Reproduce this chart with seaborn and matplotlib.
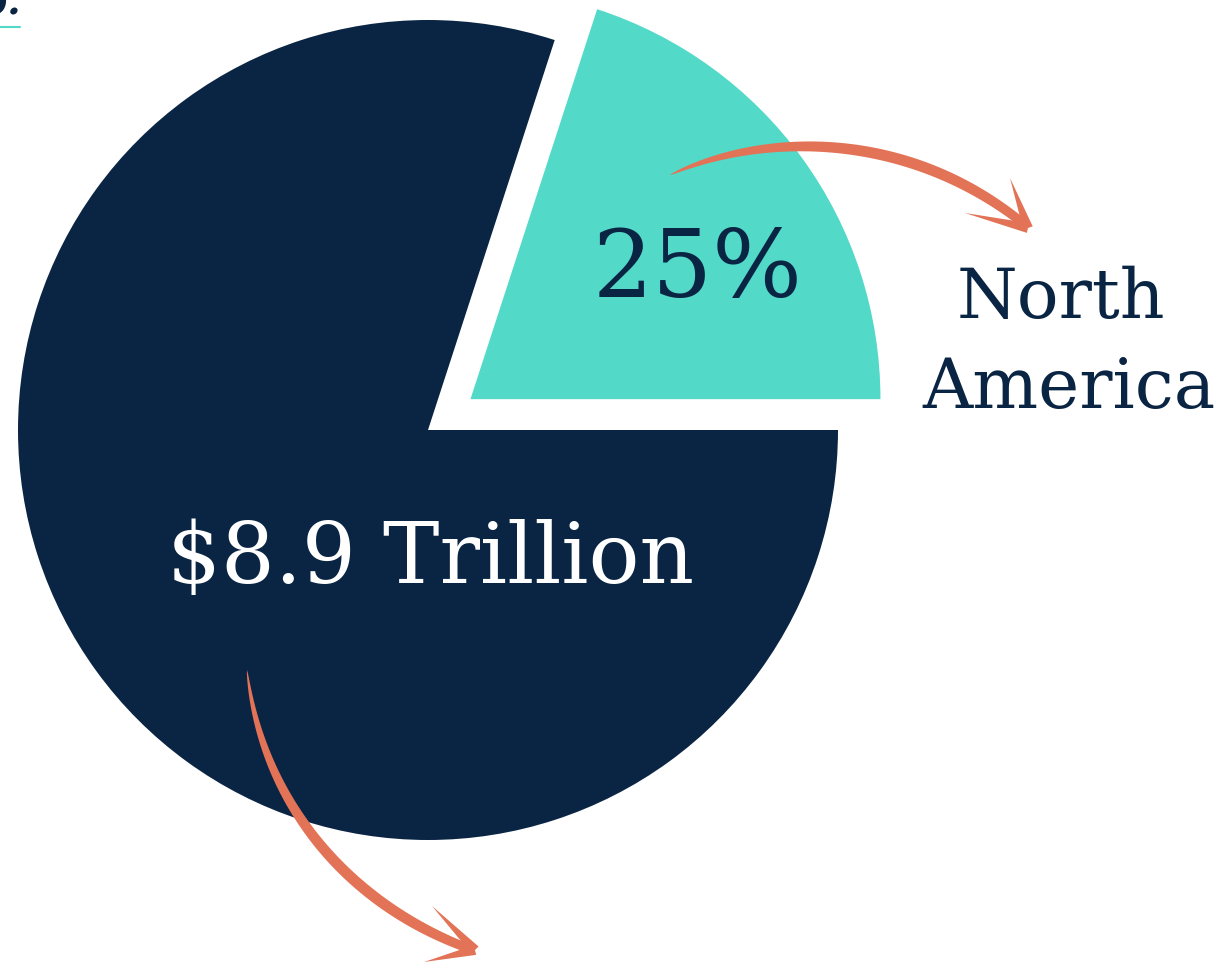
import numpy as np
import matplotlib
matplotlib.use("Agg")
import matplotlib.pyplot as plt
import seaborn as sns
from matplotlib.patches import Polygon

# data
regions = ["North America", "Rest of world"]
shares = [20, 80]          # angular share of the two wedges as drawn
share_label = "25%"
total_label = "$8.9 Trillion"

navy = "#0a2543"
teal = "#52d9c8"
coral = "#e37356"

sns.set_theme(style="white")
plt.rcParams['font.family'] = ['DejaVu Serif', 'DejaVu Sans']

W, H = 1226, 967
R = 410.0      # pie radius in pixels
CX, CY = 428, 430


def px(x, y):
    # pixel position -> data units (radius = 1)
    return (x - CX) / R, (CY - y) / R


fig = plt.figure(figsize=(W / 100, H / 100), dpi=100)
ax = fig.add_axes([0, 0, 1, 1])

wedges, _ = ax.pie(shares, colors=[teal, navy], startangle=0, counterclock=True,
                   explode=[0.128, 0], radius=1,
                   wedgeprops=dict(linewidth=0))

x0, y0 = px(0, H)
x1, y1 = px(W, 0)
ax.set_xlim(x0, x1)
ax.set_ylim(y0, y1)
ax.set_aspect("equal")
ax.axis("off")

# labels
ax.text(*px(698, 297), share_label, color=navy, fontsize=68, ha="center", va="baseline")
ax.text(*px(1061, 318), "North", color=navy, fontsize=50, ha="center", va="baseline")
ax.text(*px(1069, 408), "America", color=navy, fontsize=50, ha="center", va="baseline")
ax.text(*px(431, 583), total_label, color="white", fontsize=61, ha="center", va="baseline")

# cut-off heading fragment top-left
ax.text(*px(21, 14), "b.", color=navy, fontsize=28, style="italic", weight="bold",
        ha="right", va="baseline")
ax.plot([px(0, 27)[0], px(20, 27)[0]], [px(0, 27)[1]] * 2, color=teal, lw=1.5)


def brush(pts, wmax, tip, barbs):
    t = np.linspace(0, 1, 120)[:, None]
    p = np.array([px(*q) for q in pts])
    c = ((1 - t) ** 3 * p[0] + 3 * (1 - t) ** 2 * t * p[1]
         + 3 * (1 - t) * t ** 2 * p[2] + t ** 3 * p[3])
    d = np.gradient(c, axis=0)
    n = np.stack([-d[:, 1], d[:, 0]], axis=1)
    n /= np.linalg.norm(n, axis=1, keepdims=True)
    w = wmax / R * np.sin(np.pi * 0.75 * t[:, 0]) ** 0.6 / 2
    poly = np.vstack([c + n * w[:, None], (c - n * w[:, None])[::-1]])
    ax.add_patch(Polygon(poly, closed=True, fc=coral, ec="none"))
    tx, ty = px(*tip)
    for b in barbs:
        bx, by = px(*b)
        v = np.array([bx - tx, by - ty])
        nv = np.array([-v[1], v[0]]) / np.linalg.norm(v) * 5 / R
        tri = [(tx + nv[0], ty + nv[1]), (tx - nv[0], ty - nv[1]), (bx, by)]
        ax.add_patch(Polygon(tri, closed=True, fc=coral, ec="none"))


brush([(670, 175), (760, 133), (905, 128), (1024, 224)], 11,
      (1028, 228), [(1010, 178), (965, 213)])
brush([(247, 670), (262, 805), (350, 905), (470, 949)], 11,
      (475, 950), [(432, 906), (424, 962)])

fig.savefig("out.png", dpi=100)
